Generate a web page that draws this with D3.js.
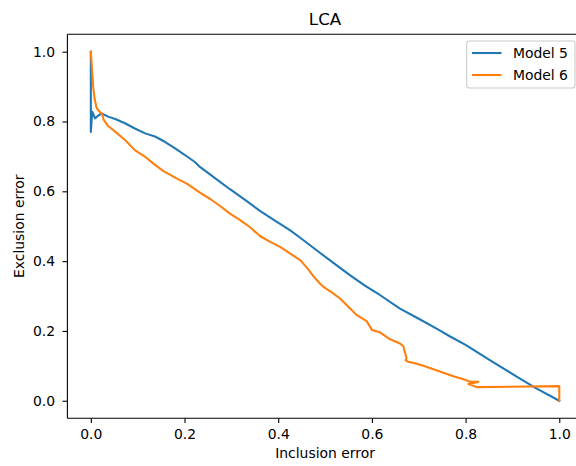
<!DOCTYPE html>
<html>
<head>
<meta charset="utf-8">
<script src="https://cdn.jsdelivr.net/npm/d3@7"></script>
<style>
  html, body { margin: 0; padding: 0; background: #fff; }
  svg { display: block; font-family: "DejaVu Sans", sans-serif; }
</style>
</head>
<body>
<svg id="chart" width="576" height="466"></svg>
<script>
// Error trade-off curves for the LCA targeting models
const title = "LCA";
const xLabel = "Inclusion error";
const yLabel = "Exclusion error";
const seriesNames = ["Model 5", "Model 6"];
const seriesColors = ["#1f77b4", "#ff7f0e"];
const tickValues = [0.0, 0.2, 0.4, 0.6, 0.8, 1.0];

const model5X = [0, 0, 0.003, 0.009, 0.016, 0.023, 0.037, 0.052, 0.073, 0.094, 0.116, 0.137, 0.158, 0.180,
  0.201, 0.222, 0.233, 0.265, 0.297, 0.330, 0.361, 0.393, 0.425, 0.447, 0.489, 0.520, 0.553, 0.585,
  0.617, 0.660, 0.700, 0.740, 0.767, 0.800, 0.850, 0.909, 0.950, 1.0];
const model5Y = [1.0, 0.770, 0.828, 0.809, 0.817, 0.823, 0.814, 0.807, 0.795, 0.780, 0.766, 0.757, 0.742, 0.723,
  0.704, 0.684, 0.670, 0.638, 0.606, 0.575, 0.544, 0.516, 0.489, 0.467, 0.424, 0.393, 0.360, 0.330,
  0.303, 0.264, 0.235, 0.205, 0.184, 0.160, 0.118, 0.069, 0.036, 0.0];

const model6X = [0, 0.002, 0.005, 0.008, 0.0126, 0.020, 0.024, 0.027, 0.037, 0.052, 0.073, 0.094, 0.116, 0.133,
  0.155, 0.183, 0.205, 0.233, 0.255, 0.276, 0.297, 0.318, 0.340, 0.361, 0.383, 0.404, 0.425, 0.447,
  0.462, 0.475, 0.489, 0.496, 0.515, 0.532, 0.553, 0.567, 0.589, 0.600, 0.617, 0.639, 0.660, 0.667,
  0.671, 0.674, 0.672, 0.677, 0.690, 0.710, 0.745, 0.774, 0.799, 0.810, 0.827, 0.806, 0.824, 1.0, 1.0];
const model6Y = [1.0, 0.960, 0.900, 0.865, 0.838, 0.826, 0.822, 0.806, 0.787, 0.771, 0.747, 0.718, 0.699, 0.680,
  0.658, 0.637, 0.622, 0.596, 0.578, 0.558, 0.536, 0.518, 0.497, 0.472, 0.455, 0.441, 0.422, 0.403,
  0.380, 0.357, 0.336, 0.327, 0.310, 0.293, 0.265, 0.246, 0.228, 0.203, 0.196, 0.176, 0.164, 0.156,
  0.137, 0.122, 0.116, 0.112, 0.108, 0.100, 0.084, 0.070, 0.060, 0.054, 0.054, 0.048, 0.039, 0.042, 0.0];

const series = [
  { name: seriesNames[0], color: seriesColors[0], points: model5X.map((x, i) => [x, model5Y[i]]) },
  { name: seriesNames[1], color: seriesColors[1], points: model6X.map((x, i) => [x, model6Y[i]]) }
];

const svg = d3.select("#chart");
const plotLeft = 67.4, plotRight = 582.7, plotTop = 34.25, plotBottom = 418.2;
const fontSize = 13.9;

const x = d3.scaleLinear().domain([-0.05, 1.05]).range([plotLeft, plotRight]);
const y = d3.scaleLinear().domain([-0.05, 1.05]).range([plotBottom, plotTop]);

// axes
const xAxis = svg.append("g")
  .attr("transform", `translate(0,${plotBottom})`)
  .call(d3.axisBottom(x).tickValues(tickValues).tickFormat(d3.format(".1f"))
    .tickSize(4.9).tickPadding(6.5).tickSizeOuter(0));
const yAxis = svg.append("g")
  .attr("transform", `translate(${plotLeft},0)`)
  .call(d3.axisLeft(y).tickValues(tickValues).tickFormat(d3.format(".1f"))
    .tickSize(4.9).tickPadding(7.5).tickSizeOuter(0));

[xAxis, yAxis].forEach(g => {
  g.select(".domain").remove();
  g.selectAll(".tick line").attr("stroke", "#000").attr("stroke-width", 1.1);
  g.selectAll(".tick text").attr("fill", "#000").attr("font-size", fontSize)
    .attr("font-family", "DejaVu Sans, sans-serif");
});

// data lines
const line = d3.line().x(d => x(d[0])).y(d => y(d[1]));
svg.append("g").selectAll("path")
  .data(series)
  .join("path")
  .attr("d", d => line(d.points))
  .attr("fill", "none")
  .attr("stroke", d => d.color)
  .attr("stroke-width", 2.08)
  .attr("stroke-linejoin", "round")
  .attr("stroke-linecap", "square");

// spines
const spines = svg.append("g").attr("stroke", "#000").attr("stroke-width", 1.1).attr("fill", "none");
spines.append("line").attr("x1", plotLeft).attr("x2", plotLeft).attr("y1", plotTop).attr("y2", plotBottom);
spines.append("line").attr("x1", plotRight).attr("x2", plotRight).attr("y1", plotTop).attr("y2", plotBottom);
spines.append("line").attr("x1", plotLeft).attr("x2", plotRight).attr("y1", plotTop).attr("y2", plotTop);
spines.append("line").attr("x1", plotLeft).attr("x2", plotRight).attr("y1", plotBottom).attr("y2", plotBottom);

// title and axis labels
svg.append("text")
  .attr("x", (plotLeft + plotRight) / 2).attr("y", 25)
  .attr("text-anchor", "middle").attr("font-size", 16.7).attr("fill", "#000")
  .text(title);
svg.append("text")
  .attr("x", (plotLeft + plotRight) / 2).attr("y", 458)
  .attr("text-anchor", "middle").attr("font-size", fontSize).attr("fill", "#000")
  .text(xLabel);
svg.append("text")
  .attr("transform", `translate(23.5,${(plotTop + plotBottom) / 2}) rotate(-90)`)
  .attr("text-anchor", "middle").attr("font-size", fontSize).attr("fill", "#000")
  .text(yLabel);

// legend
const legend = svg.append("g");
legend.append("rect")
  .attr("x", 466.7).attr("y", 41).attr("width", 108.3).attr("height", 47)
  .attr("rx", 2.8).attr("ry", 2.8)
  .attr("fill", "#fff").attr("fill-opacity", 0.8)
  .attr("stroke", "#cccccc").attr("stroke-width", 1.1);
const rows = legend.selectAll("g.row").data(series).join("g")
  .attr("class", "row")
  .attr("transform", (d, i) => `translate(0,${53 + i * 22})`);
rows.append("line")
  .attr("x1", 472).attr("x2", 501.5).attr("y1", 0).attr("y2", 0)
  .attr("stroke", d => d.color).attr("stroke-width", 2.08).attr("stroke-linecap", "butt");
rows.append("text")
  .attr("x", 513).attr("y", 0).attr("dy", "0.36em")
  .attr("font-size", fontSize).attr("fill", "#000")
  .text(d => d.name);
</script>
</body>
</html>
